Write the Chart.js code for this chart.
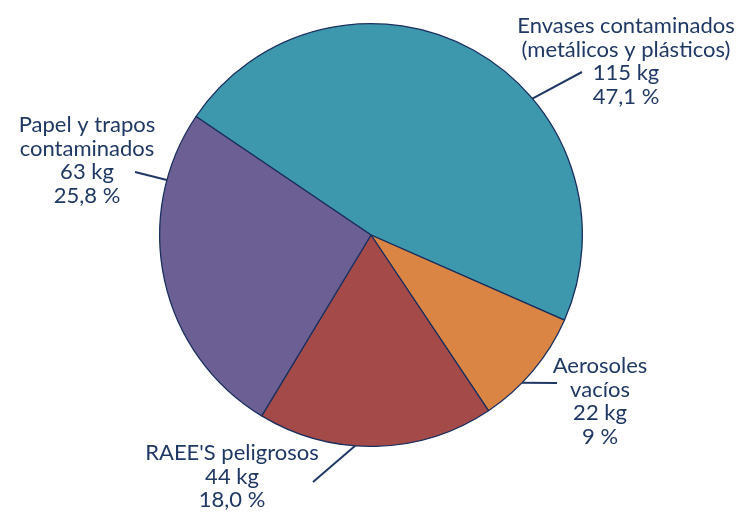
<!DOCTYPE html>
<html>
<head>
<meta charset="utf-8">
<script src="https://cdn.jsdelivr.net/npm/chart.js@4.4.1/dist/chart.umd.min.js"></script>
<style>
html,body{margin:0;padding:0;background:#fff;}
#wrap{width:738px;height:513px;position:relative;}
</style>
</head>
<body>
<div id="wrap"><canvas id="c" width="738" height="513"></canvas></div>
<script>
// ---- data ----
const categories = [
  ["Envases contaminados", "(metálicos y plásticos)"],
  ["Aerosoles", "vacíos"],
  ["RAEE'S peligrosos"],
  ["Papel y trapos", "contaminados"]
];
const kgValues = [115, 22, 44, 63];
const pctLabels = ["47,1 %", "9 %", "18,0 %", "25,8 %"];
const colors = ["#3D97AD", "#DA8543", "#A44B4A", "#6C5F93"];

// ---- label layout (leader anchor angle on rim, leader end, text centre x, first baseline) ----
const labelLayout = [
  {angle: 49.8,  end: [582, 72],  tx: 626, ty: 33},
  {angle: 134.4, end: [557, 383], tx: 600, ty: 373},
  {angle: 184.3, end: [313, 482], tx: 232, ty: 460},
  {angle: 285.1, end: [135, 172], tx: 87,  ty: 132}
];
const textColor = "#1F3864";
const lineH = 23.7;
const fontSpec = "22px Lato, 'Open Sans', sans-serif";

const labelPlugin = {
  id: 'outLabels',
  afterDatasetsDraw(chart) {
    const ctx = chart.ctx;
    const meta = chart.getDatasetMeta(0);
    const arc0 = meta.data[0];
    const cx = arc0.x, cy = arc0.y, r = arc0.outerRadius;
    ctx.save();
    ctx.strokeStyle = textColor;
    ctx.lineWidth = 2;
    ctx.fillStyle = textColor;
    ctx.font = fontSpec;
    ctx.textAlign = 'center';
    ctx.textBaseline = 'alphabetic';
    labelLayout.forEach((L, i) => {
      const a = L.angle * Math.PI / 180;
      const sx = cx + r * Math.sin(a), sy = cy - r * Math.cos(a);
      ctx.beginPath();
      ctx.moveTo(sx, sy);
      ctx.lineTo(L.end[0], L.end[1]);
      ctx.stroke();
      const lines = categories[i].concat([kgValues[i] + " kg", pctLabels[i]]);
      lines.forEach((t, k) => ctx.fillText(t, L.tx, L.ty + k * lineH));
    });
    ctx.restore();
  }
};

new Chart(document.getElementById('c'), {
  type: 'pie',
  data: {
    labels: categories.map(c => c.join(' ')),
    datasets: [{
      data: kgValues,
      backgroundColor: colors,
      borderColor: "#1A2F5E",
      borderWidth: 1.3
    }]
  },
  options: {
    responsive: false,
    animation: false,
    rotation: -55.9,
    layout: {padding: {left: 159, right: 155, top: 23, bottom: 66}},
    plugins: {legend: {display: false}, tooltip: {enabled: false}}
  },
  plugins: [labelPlugin]
});
</script>
</body>
</html>
